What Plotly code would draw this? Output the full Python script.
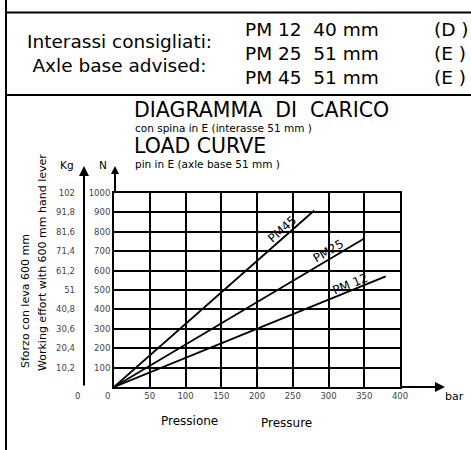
import plotly.graph_objects as go

# load curves (pressure in bar -> working effort in N)
pm45_bar = [0, 280]
pm45_n = [0, 910]
pm25_bar = [0, 350]
pm25_n = [0, 765]
pm12_bar = [0, 380]
pm12_n = [0, 570]

x_ticks = [50, 100, 150, 200, 250, 300, 350, 400]
n_ticks = [100, 200, 300, 400, 500, 600, 700, 800, 900, 1000]
kg_ticks = [10.2, 20.4, 30.6, 40.8, 51, 61.2, 71.4, 81.6, 91.8, 102]

W, H = 471, 450
FONT = "DejaVu Sans, Arial, sans-serif"


def px(x):
    return x / W


def py(y):
    return 1 - y / H


fig = go.Figure()

for xs, ys, name in [(pm45_bar, pm45_n, "PM45"), (pm25_bar, pm25_n, "PM25"), (pm12_bar, pm12_n, "PM 12")]:
    fig.add_trace(go.Scatter(x=xs, y=ys, mode="lines", name=name,
                             line=dict(color="black", width=1.8), showlegend=False))

# dummy trace for the Kg axis
fig.add_trace(go.Scatter(x=[0], y=[0], yaxis="y2", mode="markers",
                         marker=dict(opacity=0), showlegend=False, hoverinfo="skip"))

tick_font = dict(size=8.5, color="#444", family=FONT)

fig.update_layout(
    width=W, height=H,
    margin=dict(l=0, r=0, t=0, b=0, autoexpand=False),
    paper_bgcolor="white", plot_bgcolor="white",
    separators=", ",
    font=dict(family=FONT, color="black"),
    xaxis=dict(domain=[px(114), px(400)], range=[0, 400], tickvals=x_ticks,
               showgrid=True, gridcolor="black", gridwidth=2,
               showline=True, mirror=True, linecolor="black", linewidth=2,
               zeroline=False, ticks="", tickfont=tick_font, anchor="y"),
    yaxis=dict(domain=[py(387), py(193)], range=[0, 1000], tickvals=n_ticks,
               showgrid=True, gridcolor="black", gridwidth=2,
               showline=True, mirror=True, linecolor="black", linewidth=2,
               zeroline=False, ticks="", ticklabelstandoff=0, tickfont=tick_font),
    yaxis2=dict(overlaying="y", anchor="free", position=px(84), side="left",
                range=[0, 102], tickvals=kg_ticks, showgrid=False, zeroline=False,
                showline=False, ticks="", ticklabelstandoff=9, tickfont=tick_font),
)

ann = []


def txt(x, y, s, size, xanchor="left", angle=0, color="black", yanchor="middle", align="left"):
    ann.append(dict(x=px(x), y=py(y), xref="paper", yref="paper", text=s,
                    showarrow=False, xanchor=xanchor, yanchor=yanchor, align=align,
                    textangle=angle, borderpad=0,
                    font=dict(size=size, color=color, family=FONT)))


# header block
txt(119, 30, "Interassi consigliati:<br>Axle base advised:", 18.5, "center", yanchor="top", align="center")
txt(244, 18, "PM 12  40 mm<br>PM 25  51 mm<br>PM 45  51 mm", 18.5, yanchor="top")
txt(433, 18, "(D )<br>(E )<br>(E )", 18.5, yanchor="top")

# chart titles
txt(133, 96.9, "DIAGRAMMA&nbsp;&nbsp;DI&nbsp;&nbsp;CARICO", 20.5, yanchor="top")
txt(134, 120.8, "con spina in E (interasse 51 mm )", 10.5, yanchor="top")
txt(133, 133.0, "LOAD CURVE", 20.5, yanchor="top")
txt(134, 156.6, "pin in E (axle base 51 mm )", 10.5, yanchor="top")

# axis titles
txt(67, 165, "Kg", 10.5, "center")
txt(103, 165, "N", 10.5, "center")
txt(25, 301, "Sforzo con leva 600 mm", 11, "center", -90)
txt(42, 263, "Working effort with 600 mm hand lever", 11, "center", -90)
txt(77, 396, "0", 8.5, "center", color="#444")
txt(107, 396, "0", 8.5, "center", color="#444")
txt(454, 396, "bar", 11, "center")
txt(189, 421, "Pressione", 12, "center")
txt(286, 423, "Pressure", 12, "center")

# curve labels
for x, y, s, a in [(236, 812, "PM45", -41.5), (300, 700, "PM25", -30.6), (331, 530, "PM 12", -22.2)]:
    ann.append(dict(x=x, y=y, xref="x", yref="y", text=s, showarrow=False,
                    textangle=a, font=dict(size=12, color="black", family=FONT)))

# axis arrows
for hx, hy, ax, ay, size in [(445, 387, -45, 0, 1.0), (84, 166, 0, 221, 1.0), (115, 166, 0, 27, 0.8)]:
    ann.append(dict(x=px(hx), y=py(hy), xref="paper", yref="paper", ax=ax, ay=ay,
                    text="", showarrow=True, arrowhead=2, arrowsize=size,
                    arrowwidth=2, arrowcolor="black"))

fig.update_layout(annotations=ann)

# frame lines
fig.add_shape(type="line", xref="paper", yref="paper", x0=px(6), x1=px(6), y0=0, y1=1,
              line=dict(color="black", width=2))
fig.add_shape(type="line", xref="paper", yref="paper", x0=px(6), x1=1, y0=py(12.5), y1=py(12.5),
              line=dict(color="black", width=2))
fig.add_shape(type="line", xref="paper", yref="paper", x0=px(6), x1=1, y0=py(95), y1=py(95),
              line=dict(color="black", width=2))

fig.write_html("out.html", config={"displayModeBar": False},
               post_script="document.body.style.margin='0';document.body.style.overflow='hidden';")
